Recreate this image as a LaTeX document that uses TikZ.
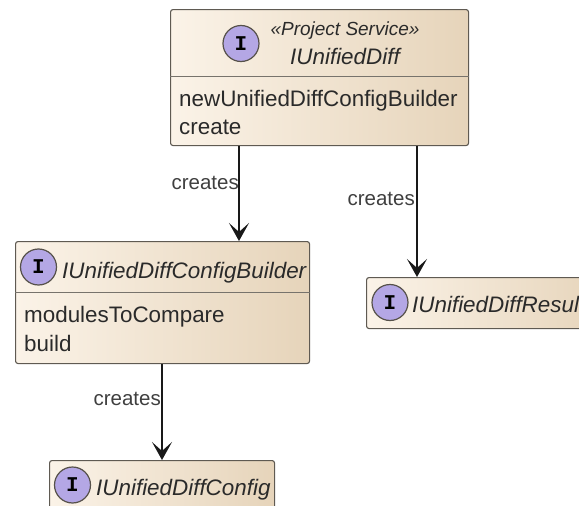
\documentclass[tikz,border=0pt]{standalone}
\usepackage{fontspec}
\setmainfont{Liberation Sans}
\newfontfamily\monob{Liberation Mono}
\usetikzlibrary{arrows.meta}
\definecolor{boxL}{HTML}{FBF3E8}
\definecolor{boxR}{HTML}{E6D4BA}
\definecolor{edgeC}{HTML}{5F5A52}
\definecolor{circF}{HTML}{B4A7E5}
\definecolor{inkC}{HTML}{2A2A2A}
\tikzset{
  x=1pt,y=1pt,
  umlbox/.style={draw=edgeC,line width=1.1pt,rounded corners=2.5pt,left color=boxL,right color=boxR,anchor=north west,inner sep=0pt},
  sep/.style={draw=edgeC!85,line width=1pt},
  badge/.style={circle,draw=edgeC!90!black,line width=1.2pt,fill=circF,minimum size=36pt,inner sep=0pt,font=\fontsize{21}{21}\selectfont\monob\bfseries,text=black},
  title/.style={font=\fontsize{22.4}{24}\selectfont\itshape,text=inkC,inner sep=0pt,anchor=base west},
  stereo/.style={font=\fontsize{19}{21}\selectfont\itshape,text=inkC,inner sep=0pt,anchor=base},
  member/.style={font=\fontsize{22.4}{24}\selectfont,text=inkC,inner sep=0pt,anchor=base west},
  edgelbl/.style={font=\fontsize{20.5}{22}\selectfont,text=inkC!90,inner sep=0pt,anchor=base east},
  arr/.style={draw=black!90,line width=1.5pt,-{Stealth[length=18pt,width=20pt,inset=9pt]}}
}
\begin{document}
\begin{tikzpicture}
\useasboundingbox (0,0) rectangle (579,-506);
\clip (0,0) rectangle (579,-506);
% boxes
\node[umlbox,minimum width=298pt,minimum height=136pt] (diff) at (170,-9) {};
\node[umlbox,minimum width=294pt,minimum height=122pt] (builder) at (15,-241) {};
\node[umlbox,minimum width=240pt,minimum height=51pt] (result) at (366,-277) {};
\node[umlbox,minimum width=225pt,minimum height=70pt] (config) at (49,-460) {};
% dividers
\coordinate (d1) at (0,-76);
\coordinate (d2) at (0,-292.5);
\draw[sep] (diff.west |- d1) -- (diff.east |- d1);
\draw[sep] (builder.west |- d2) -- (builder.east |- d2);
% badges
\node[badge] (b1) at (241,-43.5) {I};
\node[badge] (b2) at (38.5,-267) {I};
\node[badge] (b3) at (390,-302.5) {I};
\node[badge] (b4) at (72.5,-485) {I};
% texts
\node[stereo] (s1) at (345,-35.5) {«Project Service»};
\node[title] (t1) at (290,-64.5) {IUnifiedDiff};
\node[member] (m1) at (179,-106) {newUnifiedDiffConfigBuilder};
\node[member] (m2) at (179,-134.5) {create};
\node[title] (t2) at (62,-278) {IUnifiedDiffConfigBuilder};
\node[member] (m3) at (24,-322) {modulesToCompare};
\node[member] (m4) at (24,-351) {build};
\node[title] (t3) at (412,-312) {IUnifiedDiffResul};
\node[title] (t4) at (96,-495) {IUnifiedDiffConfig};
% connectors
\coordinate (c1) at (239,-190);
\coordinate (c2) at (417,-190);
\coordinate (c3) at (162,-400);
\draw[arr] (c1 |- diff.south) -- (c1 |- builder.north);
\draw[arr] (c2 |- diff.south) -- (c2 |- result.north);
\draw[arr] (c3 |- builder.south) -- (c3 |- config.north);
\node[edgelbl] (l1) at (239,-189) {creates};
\node[edgelbl] (l2) at (415,-205) {creates};
\node[edgelbl] (l3) at (161,-405) {creates};
\end{tikzpicture}
\end{document}
